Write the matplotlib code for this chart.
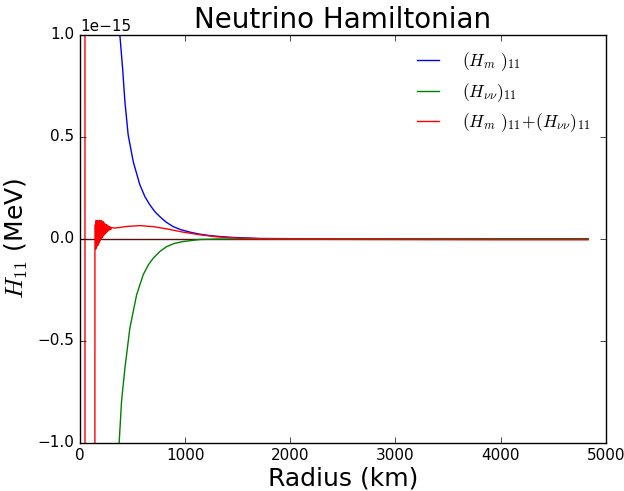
import matplotlib
matplotlib.use('Agg')
import matplotlib.pyplot as plt
import numpy as np

plt.style.use('classic')
plt.rcParams['figure.facecolor'] = 'white'
plt.rcParams['savefig.facecolor'] = 'white'
plt.rcParams['mathtext.fontset'] = 'cm'

# values in units of 1e-15 MeV, radius in km
r_m = [300, 340, 380, 406, 428, 459, 507, 570, 620, 665, 710, 760, 820,
       887, 960, 1046, 1140, 1236, 1340, 1457, 1711, 2000, 2500, 3000,
       4000, 4830]
h_m = [1.70, 1.28, 1.00, 0.837, 0.673, 0.51, 0.379, 0.265, 0.205, 0.167,
       0.135, 0.109, 0.082, 0.060, 0.045, 0.033, 0.023, 0.016, 0.011,
       0.007, 0.002, 0.001, 0.0005, 0.0003, 0.0001, 0.0]

r_vv = [300, 340, 374, 396, 428, 475, 539, 602, 650, 697, 760, 824, 900,
        982, 1141, 1300, 1600, 2000, 3000, 4000, 4830]
h_vv = [-1.75, -1.30, -0.993, -0.797, -0.634, -0.438, -0.275, -0.176,
        -0.128, -0.095, -0.062, -0.038, -0.022, -0.013, -0.003, -0.001,
        0.0, 0.0, 0.0, 0.0, 0.0]

r_sum = [45, 52, 140, 143, 147, 151, 155, 159, 163, 167, 171, 175, 179,
         183, 187, 191, 195, 199, 203, 207, 211, 215, 219, 223, 227, 231,
         235, 240, 245, 250, 255, 260, 266, 272, 278, 284, 290, 296, 302,
         330, 380, 450, 570, 697, 824, 982, 1141, 1299, 1521, 1800, 2200,
         3000, 4000, 4830]
h_sum = [30.0, -30.0, -30.0, -0.06, 0.07, -0.05, 0.09, -0.04, 0.085,
         -0.03, 0.09, -0.03, 0.08, -0.02, 0.09, -0.01, 0.085, 0.0, 0.09,
         0.005, 0.08, 0.01, 0.085, 0.015, 0.08, 0.02, 0.075, 0.025, 0.07,
         0.03, 0.07, 0.035, 0.065, 0.04, 0.06, 0.045, 0.058, 0.048, 0.055,
         0.053, 0.056, 0.061, 0.065, 0.060, 0.049, 0.033, 0.020, 0.010,
         0.003, 0.0, -0.002, -0.003, -0.004, -0.004]

scale = 1e-15

fig = plt.figure(figsize=(6.24, 4.91), dpi=100)
ax = fig.add_axes([0.128, 0.098, 0.843, 0.831])

ax.hlines(0, 0, r_sum[-1], color='#5a1010', lw=1, zorder=1)
ax.plot(r_m, np.array(h_m) * scale, color='b', lw=1, label=r'$(H_m\ )_{11}$')
ax.plot(r_vv, np.array(h_vv) * scale, color='g', lw=1, label=r'$(H_{\nu\nu})_{11}$')
ax.plot(r_sum, np.array(h_sum) * scale, color='r', lw=1,
        label=r'$(H_m\ )_{11}\!+\!(H_{\nu\nu})_{11}$')

ax.set_xlim(0, 5000)
ax.set_ylim(-1e-15, 1e-15)
ax.set_xticks([0, 1000, 2000, 3000, 4000, 5000])
ax.set_yticks(np.array([-1.0, -0.5, 0.0, 0.5, 1.0]) * scale)
ax.tick_params(labelsize=11)
ax.yaxis.get_offset_text().set_fontsize(11)

ax.set_title('Neutrino Hamiltonian', fontsize=20)
ax.set_xlabel('Radius (km)', fontsize=18, labelpad=2)
ax.set_ylabel(r'$H_{11}$ (MeV)', fontsize=18)

ax.legend(loc='upper right', frameon=False, fontsize=12.5, handlelength=1.9,
          labelspacing=0.45, handletextpad=1.0)

plt.savefig('out.png', dpi=100)
